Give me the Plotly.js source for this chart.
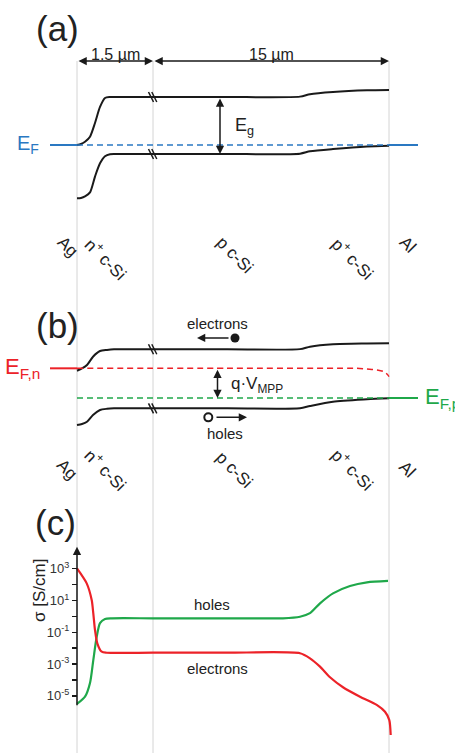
<!DOCTYPE html>
<html><head><meta charset="utf-8">
<script src="https://cdn.plot.ly/plotly-3.0.1.min.js"></script>
<style>html,body{margin:0;padding:0;background:#fff}#chart{width:455px;height:753px}</style>
</head><body><div id="chart"></div>
<script>
// ---------------- data ----------------
// position along the device (schematic units: Ag contact = 0, n+/p break = 76, Al contact = 312)
const contactsX = [0, 76, 312];
const regionLabels = ["Ag", "n<sup>+</sup> c-Si", "p c-Si", "p<sup>+</sup> c-Si", "Al"];
const regionLabelX = [-9.7, 28.7, 157, 276.3, 330.3];
const dimLabels = ["1.5 \u00b5m", "15 \u00b5m"];

// (a) equilibrium band diagram, energy in eV relative to E_F
const posA = [0, 4, 8, 13, 18, 23, 28, 33, 40, 76, 150, 223, 233, 256, 290, 312];
const cbA  = [0, 0.02, 0.065, 0.163, 0.432, 0.747, 0.924, 0.943, 0.943, 0.943, 0.943, 0.95, 0.997, 1.04, 1.073, 1.08];
const vbA  = [-1.047, -1.04, -1.01, -0.93, -0.62, -0.36, -0.22, -0.18, -0.177, -0.177, -0.177, -0.17, -0.125, -0.08, -0.03, -0.015];
const efLeadX = [-27, 0, 312, 341];
const efA = 0;

// (b) band diagram at MPP, energy in eV relative to E_F,p
const posB = [0, 5, 10, 16, 23, 30, 37, 76, 150, 223, 233, 256, 290, 312];
const cbB  = [0.536, 0.58, 0.648, 0.811, 0.923, 0.945, 0.957, 0.957, 0.957, 0.96, 1.008, 1.055, 1.07, 1.075];
const vbB  = [-0.530, -0.51, -0.466, -0.334, -0.236, -0.212, -0.203, -0.203, -0.203, -0.20, -0.157, -0.072, -0.026, -0.006];
const efnX = [0, 150, 280, 290, 300, 306, 309, 311, 312];
const efnE = [0.583, 0.583, 0.583, 0.57, 0.55, 0.525, 0.49, 0.45, 0.418];
const efpE = 0;
const carrierX = [158, 131.3];      // electron (filled), hole (open)
const carrierE = [1.179, -0.38];

// (c) conductivity, S/cm
const posHoles = [0, 8, 13, 16.3, 19.7, 23, 28, 35, 76, 150, 206, 223, 233, 243, 256, 273, 290, 311];
const sigmaHoles = [3.1e-6, 8.9e-6, 6.5e-5, 1.8e-3, 0.052, 0.38, 0.69, 0.76, 0.76, 0.76, 0.76, 0.95, 1.6, 6.6, 28, 81, 138, 170];
const posElec = [0, 9.7, 14.7, 16.3, 18, 20.3, 24.7, 29.7, 76, 150, 223, 233, 243, 253, 266, 283, 299.7, 308, 312.3, 313.7];
const sigmaElec = [1050, 120, 10.7, 1.55, 0.138, 0.0204, 6.0e-3, 5.2e-3, 5.2e-3, 5.2e-3, 4.8e-3, 2.3e-3, 6.9e-4, 1.48e-4, 3.5e-5, 8.9e-6, 2.7e-6, 1.0e-6, 3.0e-7, 3.5e-8];
const tickExps = [3, 2, 1, 0, -1, -2, -3, -4, -5];

// ---------------- styles ----------------
const FONT = "Liberation Sans, Arial, sans-serif";
const BLACK = "#1a1a1a", BLUE = "#2a78c2", RED = "#ec2228", GREEN = "#1fa84a", GRAY = "#d4d4d4";
const H = 753;
const py = p => 1 - p / H;

function line(x, y, yaxis, color, width, dash) {
  return {type: "scatter", mode: "lines", x: x, y: y, yaxis: yaxis, hoverinfo: "skip",
          line: {color: color, width: width, dash: dash || "solid", shape: "spline", smoothing: 0.7}};
}

const traces = [
  // (a)
  line(posA, cbA, "y", BLACK, 2),
  line(posA, vbA, "y", BLACK, 2),
  line([efLeadX[0], efLeadX[1]], [efA, efA], "y", BLUE, 2),
  line([efLeadX[1], efLeadX[2]], [efA, efA], "y", BLUE, 1.5, "6px,4px"),
  line([efLeadX[2], efLeadX[3]], [efA, efA], "y", BLUE, 2),
  // (b)
  line(posB, cbB, "y2", BLACK, 2),
  line(posB, vbB, "y2", BLACK, 2),
  line([efLeadX[0], efLeadX[1]], [efnE[0], efnE[0]], "y2", RED, 2),
  line(efnX, efnE, "y2", RED, 1.5, "6px,4px"),
  line([efLeadX[1], efLeadX[2]], [efpE, efpE], "y2", GREEN, 1.5, "6px,4px"),
  line([efLeadX[2], efLeadX[3]], [efpE, efpE], "y2", GREEN, 2),
  {type: "scatter", mode: "markers", x: [carrierX[0]], y: [carrierE[0]], yaxis: "y2", hoverinfo: "skip",
   marker: {symbol: "circle", size: 9, color: BLACK}},
  {type: "scatter", mode: "markers", x: [carrierX[1]], y: [carrierE[1]], yaxis: "y2", hoverinfo: "skip",
   marker: {symbol: "circle-open", size: 8, color: BLACK, line: {width: 2, color: BLACK}}},
  // (c)
  line(posHoles, sigmaHoles, "y3", GREEN, 2.2),
  line(posElec, sigmaElec, "y3", RED, 2.2)
];

// shapes: vertical guide lines and axis-break marks
const shapes = contactsX.map(x => ({type: "line", layer: "below", xref: "x", yref: "paper",
  x0: x, x1: x, y0: 0, y1: py(61), line: {color: GRAY, width: 1}}));
const bx = contactsX[1];
const iA = posA.indexOf(bx), iB = posB.indexOf(bx);
[[cbA[iA], "y"], [vbA[iA], "y"], [cbB[iB], "y2"], [vbB[iB], "y2"]].forEach(([e, yr]) => {
  [-2.5, 0.8].forEach(dx => shapes.push({type: "line", xref: "x", yref: yr,
    xsizemode: "pixel", ysizemode: "pixel", xanchor: bx, yanchor: e,
    x0: dx - 2, x1: dx + 3, y0: 5, y1: -5, line: {color: BLACK, width: 1.5}}));
});

const txt = (o) => Object.assign({showarrow: false, font: {family: FONT, size: 15, color: "#222"}}, o);
const annotations = [];
// panel letters
[["(a)", 58, 29], ["(b)", 58, 325], ["(c)", 55, 522]].forEach(([t, x, y]) =>
  annotations.push(txt({text: t, xref: "paper", yref: "paper", x: x / 455, y: py(y),
    xanchor: "center", yanchor: "middle", font: {family: FONT, size: 35, color: "#222"}})));
// dimension arrows
annotations.push(txt({text: dimLabels[0], xref: "x", yref: "paper", x: (contactsX[0] + contactsX[1]) / 2, y: py(44),
  font: {family: FONT, size: 16, color: "#222"}}));
annotations.push(txt({text: dimLabels[1], xref: "x", yref: "paper", x: (contactsX[1] + contactsX[2]) / 2, y: py(44),
  font: {family: FONT, size: 16, color: "#222"}}));
[[contactsX[0], contactsX[1]], [contactsX[1], contactsX[2]]].forEach(([a, b]) =>
  annotations.push({text: "", showarrow: true, xref: "x", yref: "paper", x: b, y: py(61),
    axref: "x", ayref: "pixel", ax: a, ay: 0, arrowside: "end+start", arrowhead: 2, startarrowhead: 2,
    arrowsize: 1.1, startarrowsize: 1.1, arrowwidth: 1.5, arrowcolor: BLACK}));
// region labels for (a) and (b)
[230, 469].forEach(yy => regionLabels.forEach((t, i) =>
  annotations.push(txt({text: t, xref: "x", yref: "paper", x: regionLabelX[i], y: py(yy),
    textangle: 45, font: {family: FONT, size: 17, color: "#222"}}))));
// (a) labels
annotations.push(txt({text: "E<sub>F</sub>", xref: "x", yref: "y", x: -36, y: efA, xanchor: "right",
  font: {family: FONT, size: 20, color: BLUE}}));
annotations.push({text: "", showarrow: true, xref: "x", yref: "y", x: 143, y: vbA[iA], axref: "x", ayref: "y",
  ax: 143, ay: cbA[iA], arrowside: "end+start", arrowhead: 2, startarrowhead: 2, arrowsize: 1.1, startarrowsize: 1.1,
  arrowwidth: 1.5, arrowcolor: BLACK});
annotations.push(txt({text: "E<sub>g</sub>", xref: "x", yref: "y", x: 156, y: 0.36, xanchor: "left",
  font: {family: FONT, size: 18, color: "#222"}}));
// (b) labels
annotations.push(txt({text: "E<sub>F,n</sub>", xref: "x", yref: "y2", x: -35, y: efnE[0], xanchor: "right",
  font: {family: FONT, size: 22, color: RED}}));
annotations.push(txt({text: "E<sub>F,p</sub>", xref: "x", yref: "y2", x: 346, y: efpE, xanchor: "left",
  font: {family: FONT, size: 22, color: GREEN}}));
annotations.push({text: "", showarrow: true, xref: "x", yref: "y2", x: 140.5, y: efpE, axref: "x", ayref: "y2",
  ax: 140.5, ay: efnE[0], arrowside: "end+start", arrowhead: 2, startarrowhead: 2, arrowsize: 1.1, startarrowsize: 1.1,
  arrowwidth: 1.5, arrowcolor: BLACK});
annotations.push(txt({text: "q\u00b7V<sub>MPP</sub>", xref: "x", yref: "y2", x: 152, y: 0.25, xanchor: "left",
  font: {family: FONT, size: 17, color: "#222"}}));
annotations.push(txt({text: "electrons", xref: "x", yref: "y2", x: 140.5, y: 1.468}));
annotations.push({text: "", showarrow: true, xref: "x", yref: "y2", x: 120, y: carrierE[0], axref: "x", ayref: "y2",
  ax: 153, ay: carrierE[0], arrowhead: 2, arrowsize: 1.1, arrowwidth: 1.5, arrowcolor: BLACK});
annotations.push(txt({text: "holes", xref: "x", yref: "y2", x: 147.7, y: -0.69}));
annotations.push({text: "", showarrow: true, xref: "x", yref: "y2", x: 170, y: carrierE[1], axref: "x", ayref: "y2",
  ax: 138, ay: carrierE[1], arrowhead: 2, arrowsize: 1.1, arrowwidth: 1.5, arrowcolor: BLACK});
// (c) labels
annotations.push({text: "", showarrow: true, xref: "x", yref: "y3", x: 0, y: 4.38, axref: "x", ayref: "y3",
  ax: 0, ay: -5.68, arrowhead: 2, arrowsize: 1.1, arrowwidth: 1.5, arrowcolor: BLACK});
annotations.push(txt({text: "holes", xref: "x", yref: "y3", x: 135, y: 0.78}));
annotations.push(txt({text: "electrons", xref: "x", yref: "y3", x: 140, y: -3.25}));
annotations.push(txt({text: "\u03c3 [S/cm]", xref: "paper", yref: "paper", x: 28 / 455, y: py(624), textangle: -90,
  font: {family: FONT, size: 17, color: "#222"}}));

const tickvals = tickExps.map(e => Math.pow(10, e));
const ticktext = tickExps.map(e => (e % 2 !== 0) ? "10<sup>" + e + "</sup>" : "");
const hidden = {visible: false, showgrid: false, zeroline: false, fixedrange: true};

const layout = {
  width: 455, height: 753, margin: {l: 0, r: 0, t: 0, b: 0}, showlegend: false,
  paper_bgcolor: "#fff", plot_bgcolor: "rgba(0,0,0,0)",
  xaxis: Object.assign({range: [-77, 378], domain: [0, 1]}, hidden),
  yaxis: Object.assign({range: [-1.277, 2.259], domain: [py(210), py(30)]}, hidden),
  yaxis2: Object.assign({range: [-0.825, 1.925], domain: [py(440), py(300)]}, hidden),
  yaxis3: {type: "log", range: [-8.088, 4.805], domain: [py(745), py(540)], anchor: "free", position: 77 / 455,
    showgrid: false, zeroline: false, showline: false, ticks: "outside", ticklen: 5, tickwidth: 1.5, tickcolor: BLACK,
    tickmode: "array", tickvals: tickvals, ticktext: ticktext, tickfont: {family: FONT, size: 13, color: "#333"}, fixedrange: true},
  yaxis4: {type: "log", range: [-8.088, 4.805], overlaying: "y3", side: "right", anchor: "free", position: 77 / 455,
    showgrid: false, zeroline: false, showline: false, ticks: "outside", ticklen: 5, tickwidth: 1.5, tickcolor: BLACK,
    tickmode: "array", tickvals: tickvals, showticklabels: false, fixedrange: true},
  shapes: shapes, annotations: annotations
};

Plotly.newPlot("chart", traces, layout, {staticPlot: true, displayModeBar: false});
</script></body></html>
